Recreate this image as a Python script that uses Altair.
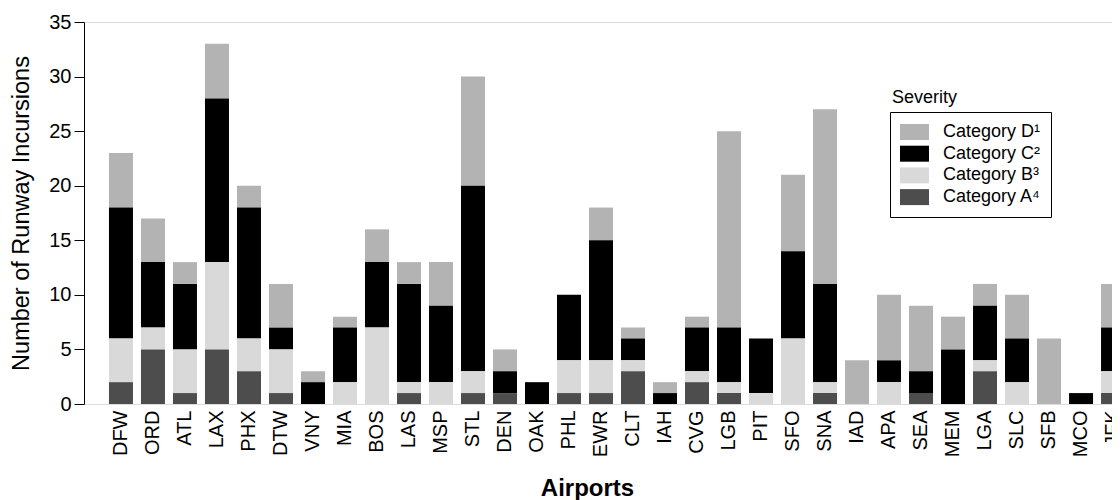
import altair as alt
import pandas as pd

airports = ["DFW", "ORD", "ATL", "LAX", "PHX", "DTW", "VNY", "MIA", "BOS", "LAS",
            "MSP", "STL", "DEN", "OAK", "PHL", "EWR", "CLT", "IAH", "CVG", "LGB",
            "PIT", "SFO", "SNA", "IAD", "APA", "SEA", "MEM", "LGA", "SLC", "SFB",
            "MCO", "JFK"]
cat_a = [2, 5, 1, 5, 3, 1, 0, 0, 0, 1, 0, 1, 1, 0, 1, 1, 3, 0, 2, 1, 0, 0, 1, 0, 0, 1, 0, 3, 0, 0, 0, 1]
cat_b = [4, 2, 4, 8, 3, 4, 0, 2, 7, 1, 2, 2, 0, 0, 3, 3, 1, 0, 1, 1, 1, 6, 1, 0, 2, 0, 0, 1, 2, 0, 0, 2]
cat_c = [12, 6, 6, 15, 12, 2, 2, 5, 6, 9, 7, 17, 2, 2, 6, 11, 2, 1, 4, 5, 5, 8, 9, 0, 2, 2, 5, 5, 4, 0, 1, 4]
cat_d = [5, 4, 2, 5, 2, 4, 1, 1, 3, 2, 4, 10, 2, 0, 0, 3, 1, 1, 1, 18, 0, 7, 16, 4, 6, 6, 3, 2, 4, 6, 0, 4]

severity_labels = ["Category D\u00b9", "Category C\u00b2", "Category B\u00b3", "Category A\u2074"]
severity_colors = ["#b3b3b3", "#000000", "#d9d9d9", "#4d4d4d"]
stack_rank = {"Category A\u2074": 0, "Category B\u00b3": 1, "Category C\u00b2": 2, "Category D\u00b9": 3}

rows = []
for i, ap in enumerate(airports):
    for lab, vals in zip(severity_labels, [cat_d, cat_c, cat_b, cat_a]):
        if vals[i] > 0:
            rows.append({"Airport": ap, "Severity": lab, "Count": vals[i], "rank": stack_rank[lab]})
df = pd.DataFrame(rows)

FONT = "Liberation Sans"

bars = alt.Chart(df).mark_bar(opacity=1).encode(
    x=alt.X("Airport:N", sort=airports,
            scale=alt.Scale(paddingInner=0.25, paddingOuter=0.78, range=[0, 1066]),
            axis=alt.Axis(title="Airports", labelAngle=270, ticks=False, domain=False,
                          labelPadding=6, labelFontSize=20, labelColor="black",
                          titleFontSize=24, titleFontWeight="bold", titleColor="black",
                          titlePadding=20, titleX=503, labelFont=FONT, titleFont=FONT)),
    y=alt.Y("Count:Q", stack="zero",
            scale=alt.Scale(domain=[0, 35], nice=False),
            axis=alt.Axis(title="Number of Runway Incursions", values=[0, 5, 10, 15, 20, 25, 30, 35],
                          grid=False, domainColor="black", tickColor="black", tickSize=10,
                          labelPadding=3, labelFontSize=20, labelColor="black",
                          titleFontSize=23.5, titleFontWeight="normal", titleColor="black",
                          titlePadding=15, labelFont=FONT, titleFont=FONT)),
    color=alt.Color("Severity:N",
                    scale=alt.Scale(domain=severity_labels, range=severity_colors),
                    legend=alt.Legend(title=None, orient="none", legendX=806, legendY=90,
                                      strokeColor="black", padding=10, symbolOffset=4.5,
                                      symbolType="M-1.45,-0.8L1.45,-0.8L1.45,0.8L-1.45,0.8Z",
                                      symbolSize=400, symbolStrokeWidth=0, symbolOpacity=1,
                                      labelFontSize=18, labelFont=FONT, labelColor="black",
                                      labelOffset=18.5, rowPadding=2.7)),
    order=alt.Order("rank:Q", sort="ascending"),
)

title_df = pd.DataFrame({"t": ["Severity"]})
legend_title = alt.Chart(title_df).mark_text(
    align="left", baseline="alphabetic", fontSize=18, font=FONT, color="black"
).encode(x=alt.value(808), y=alt.value(81), text="t:N")

chart = alt.layer(bars, legend_title).properties(
    width=1028, height=382,
    autosize=alt.AutoSizeParams(type="none"),
    padding={"left": 76, "top": 14, "right": 0, "bottom": 96},
).configure_view(stroke=None).configure(font=FONT)

chart.save("out.html", embed_options={"renderer": "svg", "actions": False})
